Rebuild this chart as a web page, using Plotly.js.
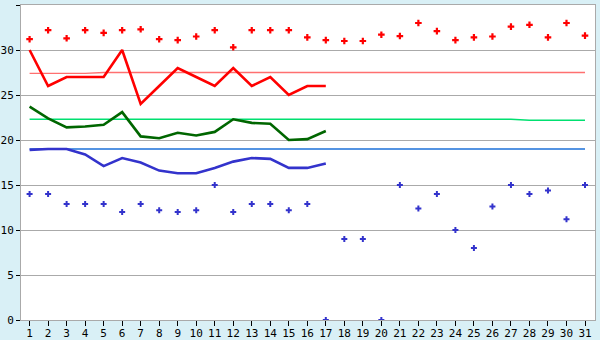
<!DOCTYPE html>
<html>
<head>
<meta charset="utf-8">
<script src="https://cdn.plot.ly/plotly-3.0.1.min.js"></script>
<style>html,body{margin:0;padding:0;background:#D9F0F6;}#chart{width:600px;height:340px;}</style>
</head>
<body>
<div id="chart"></div>
<script>
const days = Array.from({length: 31}, (_, i) => i + 1);
const dayLabels = days.map(String);

const maxPoints = [31.2,32.2,31.3,32.2,31.9,32.2,32.3,31.2,31.1,31.5,
                   32.2,30.3,32.2,32.2,32.2,31.4,31.1,31.0,31.0,31.7,
                   31.55,33.0,32.1,31.1,31.4,31.5,32.6,32.8,31.4,33.0,31.6];
const minPoints = [14.0,14.0,12.9,12.9,12.9,12.0,12.9,12.2,12.0,12.2,
                   15.0,12.0,12.9,12.9,12.2,12.9,0,9.0,9.0,0,
                   15.0,12.4,14.0,10.0,8.0,12.6,15.0,14.0,14.4,11.2,15.0];

const lineDays = days.slice(0, 17);
const maxLine = [30,26,27,27,27,30,24,26,28,27,26,28,26,27,25,26,26];
const meanLine = [23.7,22.4,21.4,21.5,21.7,23.1,20.4,20.2,20.8,20.5,20.9,22.3,21.9,21.8,20.0,20.1,21.0];
const minLine = [18.9,19.0,19.0,18.4,17.1,18.0,17.5,16.6,16.3,16.3,16.9,17.6,18.0,17.9,16.9,16.9,17.4];

const maxAvg = days.map(d => d <= 4 ? 27.4 : 27.5);
const meanAvg = days.map(d => d <= 27 ? 22.3 : 22.2);
const minAvg = days.map(d => 19.0);

const traces = [
  {x: days, y: maxAvg, mode: 'lines', line: {color: '#FF7070', width: 1.3}},
  {x: days, y: meanAvg, mode: 'lines', line: {color: '#00E070', width: 1.5}},
  {x: days, y: minAvg, mode: 'lines', line: {color: '#1C70D8', width: 1.5}},
  {x: lineDays, y: maxLine, mode: 'lines', line: {color: '#FF0000', width: 2.6}},
  {x: lineDays, y: meanLine, mode: 'lines', line: {color: '#006600', width: 2.6}},
  {x: lineDays, y: minLine, mode: 'lines', line: {color: '#3333CC', width: 2.6}},
  {x: days, y: maxPoints, mode: 'markers', marker: {symbol: 'cross', size: 5.5, color: '#FF0000'}},
  {x: days, y: minPoints, mode: 'markers', marker: {symbol: 'cross', size: 5, color: '#3333CC'}}
];

const layout = {
  width: 600, height: 340,
  margin: {l: 21, r: 5, t: 5, b: 20, pad: 0},
  paper_bgcolor: '#D9F0F6',
  plot_bgcolor: '#FFFFFF',
  showlegend: false,
  hovermode: false,
  font: {family: 'DejaVu Sans Mono', size: 11, color: '#000'},
  xaxis: {
    range: [0.536, 31.54],
    tickvals: days, ticktext: dayLabels,
    showgrid: false, zeroline: false,
    showline: true, mirror: true, linecolor: '#AAAAAA', linewidth: 1,
    ticks: 'outside', ticklen: 5, tickcolor: '#000', tickwidth: 1,
    ticklabelstandoff: -2,
    tickfont: {family: 'DejaVu Sans Mono', size: 11, color: '#000'}
  },
  yaxis: {
    range: [0, 35],
    tickvals: [0,5,10,15,20,25,30,35],
    showgrid: true, gridcolor: '#AAAAAA', gridwidth: 1, zeroline: false,
    showline: true, mirror: true, linecolor: '#AAAAAA', linewidth: 1,
    ticks: 'outside', ticklen: 4, tickcolor: '#000', tickwidth: 1,
    tickfont: {family: 'DejaVu Sans Mono', size: 11, color: '#000'}
  }
};

Plotly.newPlot('chart', traces, layout, {staticPlot: true, displayModeBar: false});
</script>
</body>
</html>
